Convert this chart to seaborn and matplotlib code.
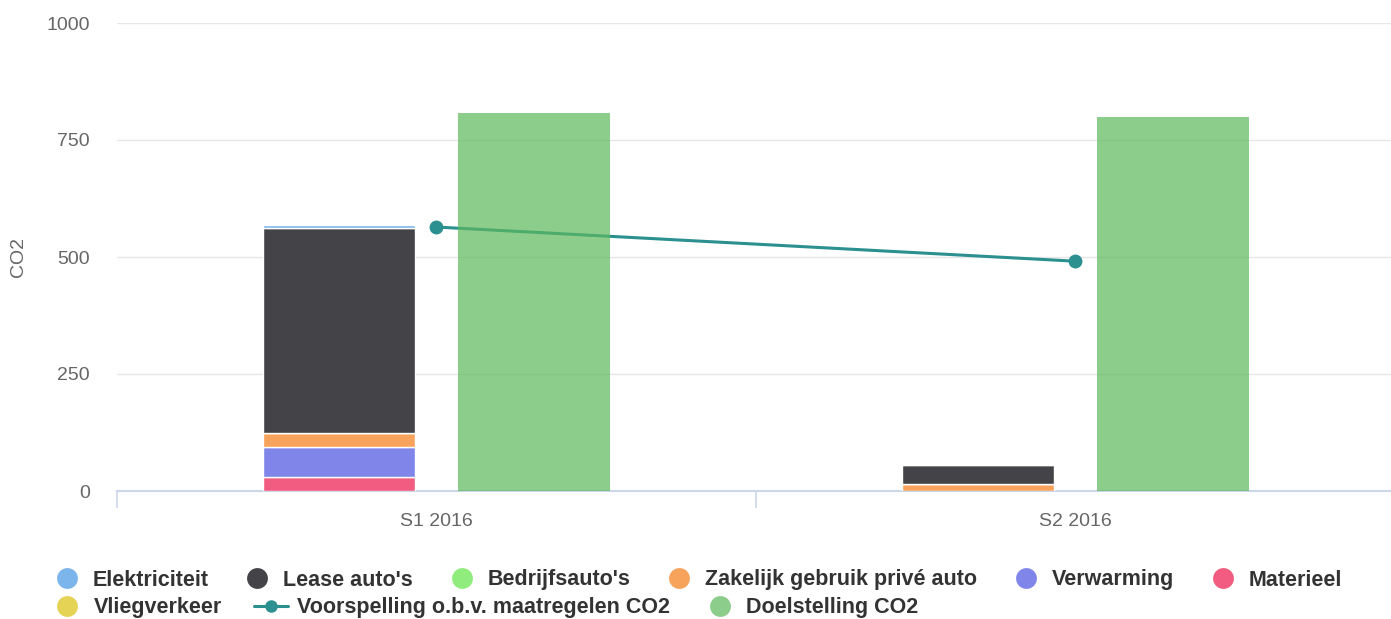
import numpy as np
import matplotlib.pyplot as plt
from matplotlib.lines import Line2D
import seaborn as sns

# Data
categories = ['S1 2016', 'S2 2016']
elektriciteit = [6, 0]
lease_autos = [437, 41]
bedrijfsautos = [0, 0]
zakelijk_prive = [31, 14]
verwarming = [64, 0]
materieel = [30, 0]
vliegverkeer = [0, 0]
voorspelling = [564, 491]
doelstelling = [808, 799]

# Stack order: first listed is drawn at the bottom
stack = [
    ('Vliegverkeer', vliegverkeer, '#e4d354'),
    ('Materieel', materieel, '#f15c80'),
    ('Verwarming', verwarming, '#8085e9'),
    ('Zakelijk gebruik privé auto', zakelijk_prive, '#f7a35c'),
    ("Bedrijfsauto's", bedrijfsautos, '#90ed7d'),
    ("Lease auto's", lease_autos, '#434348'),
    ('Elektriciteit', elektriciteit, '#7cb5ec'),
]
goal_color = '#5cb85c'
line_color = '#2b908f'

sns.set_style('white')
plt.rcParams['font.family'] = ['Liberation Sans', 'DejaVu Sans']

fig = plt.figure(figsize=(13.91, 6.19), dpi=100)
# plot area runs a few pixels past the right edge, like the original
ax = fig.add_axes([117 / 1391, 128 / 619, 1278 / 1391, 468 / 619])

x = np.arange(len(categories))
offset, width = 0.152, 0.238

bottom = np.zeros(len(categories))
for name, vals, col in stack:
    ax.bar(x - offset, vals, width, bottom=bottom, color=col,
           edgecolor='white', linewidth=1, zorder=3)
    bottom += np.array(vals)

ax.bar(x + offset, doelstelling, width, color=goal_color, alpha=0.7,
       linewidth=0, zorder=3)

sns.lineplot(x=x, y=voorspelling, color=line_color, lw=2.2, marker='o',
             markersize=10, markeredgewidth=0, ax=ax, zorder=2)

# Axes styling
ax.set_xlim(-0.5, 1.5)
ax.set_ylim(0, 1000)
ax.set_yticks([0, 250, 500, 750, 1000])
ax.set_xticks(x)
ax.set_xticklabels(categories)
ax.set_xticks([-0.5, 0.5, 1.5], minor=True)
ax.tick_params(axis='x', which='major', length=0, pad=16, labelsize=14,
               labelcolor='#666666')
ax.tick_params(axis='x', which='minor', bottom=True, length=12, width=1.2,
               color='#ccd6eb')
ax.tick_params(axis='y', length=0, pad=19.5, labelsize=14, labelcolor='#666666')
ax.yaxis.grid(True, color='#e6e6e6', lw=1, zorder=0)
ax.xaxis.grid(False)
for s in ['left', 'top', 'right']:
    ax.spines[s].set_visible(False)
ax.spines['bottom'].set_color('#ccd6eb')
ax.spines['bottom'].set_linewidth(1.5)
ax.set_ylabel('CO2', fontsize=14, color='#666666')
ax.yaxis.set_label_coords(-90 / 1278, 0.5)

# Legend in two rows, flowing like the original
def dot(col, alpha=1.0):
    return Line2D([], [], ls='', marker='o', markersize=15, color=col,
                  alpha=alpha, markeredgewidth=0)

colors = {name: col for name, _, col in stack}
leg_kw = dict(frameon=False, borderpad=0, borderaxespad=0,
              prop={'weight': 'bold', 'size': 15.5})

row1 = ['Elektriciteit', "Lease auto's", "Bedrijfsauto's",
        'Zakelijk gebruik privé auto', 'Verwarming', 'Materieel']
leg1 = fig.legend([dot(colors[n]) for n in row1], row1, ncol=6,
                  loc='center left', bbox_to_anchor=(56 / 1391, 1 - 580 / 619),
                  handlelength=1.0, handletextpad=0.7, columnspacing=1.77,
                  **leg_kw)
for t in leg1.get_texts():
    t.set_color('#333333')

row2_handles = [dot(colors['Vliegverkeer']),
                Line2D([], [], color=line_color, lw=2.2, marker='o',
                       markersize=9, markeredgewidth=0),
                dot(goal_color, 0.7)]
row2 = ['Vliegverkeer', 'Voorspelling o.b.v. maatregelen CO2', 'Doelstelling CO2']
leg2 = fig.legend(row2_handles, row2, ncol=3, loc='center left',
                  bbox_to_anchor=(50 / 1391, 1 - 608 / 619),
                  handlelength=1.6, handletextpad=0.42, columnspacing=1.49,
                  **leg_kw)
for t in leg2.get_texts():
    t.set_color('#333333')

fig.savefig('out.png', dpi=100, facecolor='white')
